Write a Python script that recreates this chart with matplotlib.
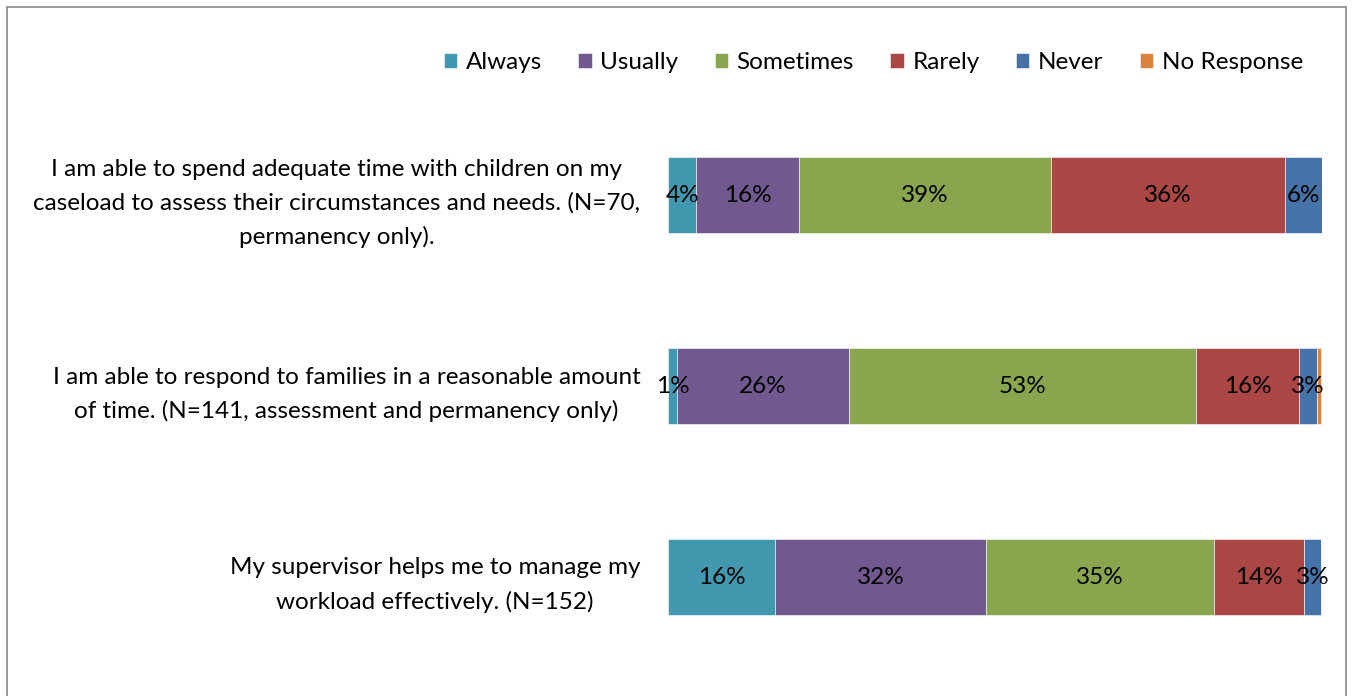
import numpy as np
import matplotlib.pyplot as plt
from matplotlib.patches import Rectangle

plt.rcParams['font.family'] = ['Lato', 'DejaVu Sans']

questions = [
    'I am able to spend adequate time with children on my\ncaseload to assess their circumstances and needs. (N=70,\npermanency only).',
    'I am able to respond to families in a reasonable amount\nof time. (N=141, assessment and permanency only)',
    'My supervisor helps me to manage my\nworkload effectively. (N=152)',
]
responses = ['Always', 'Usually', 'Sometimes', 'Rarely', 'Never', 'No Response']
colors = ['#4198AF', '#71588F', '#89A54E', '#AA4643', '#4572A7', '#DB843D']

# percent of respondents, one list per response
always = [4.3, 1.4, 16.4]
usually = [15.7, 26.2, 32.2]
sometimes = [38.6, 53.2, 34.9]
rarely = [35.7, 15.6, 13.8]
never = [5.7, 2.8, 2.6]
no_response = [0.0, 0.7, 0.0]
series = [always, usually, sometimes, rarely, never, no_response]

fs = 17.5

fig = plt.figure(figsize=(13.54, 6.96), dpi=100)
ax = fig.add_axes([0.4934, 0.0338, 0.4830, 0.823])

y = np.arange(len(questions))
left = np.zeros(len(questions))
for name, vals, c in zip(responses, series, colors):
    vals = np.array(vals)
    bars = ax.barh(y, vals, left=left, height=0.4, color=c, label=name,
                   edgecolor='white', linewidth=0.4)
    for b, v in zip(bars, vals):
        if v >= 1:
            ax.text(b.get_x() + b.get_width() / 2, b.get_y() + b.get_height() / 2,
                    f'{v:.0f}%', ha='center', va='center', fontsize=fs, color='black')
    left += vals

ax.set_xlim(0, 100)
ax.set_ylim(2.5, -0.5)
ax.set_yticks(y)
ax.set_yticklabels(questions, fontsize=fs, multialignment='center', linespacing=1.7)
ax.tick_params(axis='y', length=0, pad=20)
ax.set_xticks([])
for s in ax.spines.values():
    s.set_visible(False)

fig.legend(loc='center', bbox_to_anchor=(0.645, 0.91), ncol=6, frameon=False,
           fontsize=fs, handlelength=0.55, handleheight=0.55, handletextpad=0.35,
           columnspacing=1.5)

fig.patches.append(Rectangle((0.005, -0.01), 0.989, 1.0, transform=fig.transFigure,
                             fill=False, edgecolor='#888888', linewidth=1.2))

plt.savefig('out.png', dpi=100)
